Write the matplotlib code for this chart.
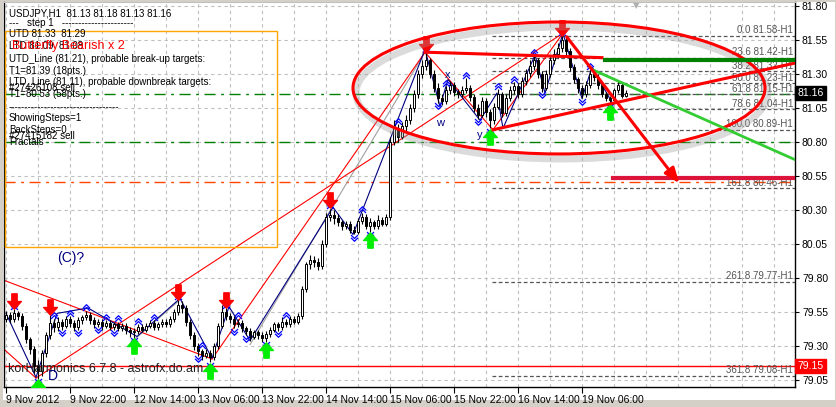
import matplotlib.pyplot as plt
import numpy as np
from matplotlib.patches import Ellipse, Rectangle
from matplotlib.path import Path

# H1 candles (open = previous close)
first_open = 79.50
closes = [79.53, 79.50, 79.54, 79.52, 79.45, 79.35, 79.28, 79.15, 79.12, 79.25,
          79.38, 79.47, 79.44, 79.48, 79.45, 79.50, 79.47, 79.44, 79.49, 79.51,
          79.53, 79.49, 79.46, 79.48, 79.45, 79.47, 79.44, 79.46, 79.43, 79.45,
          79.42, 79.40, 79.41, 79.44, 79.42, 79.45, 79.47, 79.44, 79.46, 79.48,
          79.46, 79.50, 79.55, 79.60, 79.58, 79.48, 79.38, 79.30, 79.26, 79.23,
          79.25, 79.22, 79.30, 79.45, 79.55, 79.52, 79.50, 79.46, 79.47, 79.43,
          79.41, 79.37, 79.40, 79.38, 79.36, 79.39, 79.42, 79.46, 79.44, 79.48,
          79.46, 79.50, 79.48, 79.52, 79.72, 79.90, 79.93, 79.92, 79.89, 80.05,
          80.25, 80.26, 80.24, 80.21, 80.18, 80.20, 80.15, 80.14, 80.22, 80.25,
          80.18, 80.21, 80.18, 80.23, 80.20, 80.25, 80.80, 80.90, 80.84, 80.92,
          80.96, 81.05, 81.15, 81.30, 81.36, 81.40, 81.30, 81.20, 81.12, 81.10,
          81.18, 81.22, 81.17, 81.15, 81.18, 81.20, 81.13, 81.05, 81.00, 81.10,
          81.02, 80.96, 81.06, 81.15, 81.01, 81.12, 81.18, 81.21, 81.15, 81.25,
          81.31, 81.36, 81.40, 81.30, 81.20, 81.30, 81.40, 81.45, 81.49, 81.55,
          81.47, 81.35, 81.26, 81.20, 81.15, 81.22, 81.30, 81.28, 81.22, 81.15,
          81.12, 81.11, 81.18, 81.22, 81.14, 81.16]
highs = [79.56, 79.55, 79.57, 79.56, 79.54, 79.47, 79.37, 79.30, 79.20, 79.27,
         79.40, 79.53, 79.50, 79.51, 79.50, 79.52, 79.52, 79.49, 79.51, 79.53,
         79.56, 79.55, 79.51, 79.50, 79.50, 79.49, 79.49, 79.48, 79.48, 79.47,
         79.47, 79.44, 79.43, 79.46, 79.46, 79.47, 79.49, 79.49, 79.48, 79.50,
         79.50, 79.52, 79.57, 79.64, 79.63, 79.60, 79.50, 79.40, 79.32, 79.28,
         79.28, 79.27, 79.32, 79.47, 79.60, 79.58, 79.54, 79.52, 79.50, 79.49,
         79.45, 79.43, 79.42, 79.42, 79.40, 79.41, 79.44, 79.48, 79.48, 79.51,
         79.50, 79.52, 79.52, 79.54, 79.74, 79.92, 79.97, 79.96, 79.95, 80.08,
         80.28, 80.31, 80.30, 80.27, 80.23, 80.22, 80.22, 80.18, 80.24, 80.28,
         80.27, 80.24, 80.23, 80.26, 80.25, 80.27, 80.84, 80.96, 80.93, 80.95,
         81.00, 81.08, 81.18, 81.33, 81.40, 81.46, 81.42, 81.33, 81.23, 81.15,
         81.21, 81.25, 81.24, 81.19, 81.21, 81.27, 81.22, 81.15, 81.08, 81.13,
         81.12, 81.04, 81.09, 81.19, 81.17, 81.15, 81.21, 81.24, 81.23, 81.28,
         81.34, 81.40, 81.44, 81.42, 81.32, 81.33, 81.43, 81.48, 81.53, 81.58,
         81.57, 81.49, 81.37, 81.28, 81.22, 81.25, 81.33, 81.32, 81.30, 81.24,
         81.17, 81.14, 81.20, 81.25, 81.24, 81.18]
lows = [79.48, 79.47, 79.48, 79.49, 79.42, 79.32, 79.24, 79.10, 79.06, 79.08,
        79.22, 79.35, 79.40, 79.41, 79.42, 79.43, 79.44, 79.41, 79.42, 79.46,
        79.49, 79.46, 79.43, 79.44, 79.42, 79.43, 79.42, 79.42, 79.41, 79.41,
        79.39, 79.37, 79.36, 79.39, 79.40, 79.40, 79.43, 79.42, 79.42, 79.44,
        79.44, 79.44, 79.48, 79.53, 79.54, 79.45, 79.35, 79.27, 79.23, 79.20,
        79.21, 79.18, 79.20, 79.28, 79.43, 79.49, 79.47, 79.43, 79.44, 79.40,
        79.38, 79.34, 79.35, 79.35, 79.33, 79.33, 79.37, 79.40, 79.41, 79.42,
        79.44, 79.44, 79.46, 79.46, 79.50, 79.70, 79.87, 79.88, 79.86, 79.87,
        80.03, 80.22, 80.20, 80.18, 80.15, 80.16, 80.13, 80.12, 80.12, 80.20,
        80.16, 80.14, 80.16, 80.16, 80.18, 80.18, 80.23, 80.78, 80.80, 80.82,
        80.88, 80.93, 81.02, 81.12, 81.27, 81.33, 81.27, 81.17, 81.09, 81.07,
        81.08, 81.15, 81.14, 81.12, 81.13, 81.16, 81.10, 81.02, 80.97, 80.98,
        80.98, 80.90, 80.93, 81.04, 80.98, 80.99, 81.10, 81.15, 81.12, 81.13,
        81.22, 81.28, 81.33, 81.27, 81.17, 81.18, 81.28, 81.37, 81.42, 81.46,
        81.44, 81.32, 81.23, 81.16, 81.12, 81.13, 81.20, 81.25, 81.19, 81.13,
        81.10, 81.08, 81.10, 81.16, 81.12, 81.13]

time_labels = ["9 Nov 2012", "9 Nov 22:00", "12 Nov 14:00", "13 Nov 06:00",
               "13 Nov 22:00", "14 Nov 14:00", "15 Nov 06:00", "15 Nov 22:00",
               "16 Nov 14:00", "19 Nov 06:00"]
price_ticks = [79.05, 79.30, 79.55, 79.80, 80.05, 80.30, 80.55, 80.80,
               81.05, 81.30, 81.55, 81.80]

# fractals / signal arrows (bar indices)
up_fractals = [2, 12, 16, 20, 25, 28, 33, 37, 43, 49, 55, 58, 70, 81, 89, 98,
               105, 110, 115, 123, 127, 132, 139, 146]
down_fractals = [8, 14, 18, 23, 27, 32, 48, 51, 57, 60, 65, 68, 87, 91, 108,
                 118, 121, 134, 144, 151]
sell_arrows = [2, 11, 43, 55, 81, 105, 139]
buy_arrows = [8, 32, 51, 65, 91, 121, 151]

# zigzag through swing points (bar, price)
zz_bar = [0, 7.5, 12.75, 20.5, 32.75, 43.5, 51.5, 55.75, 61, 81.75, 86.75,
          97.75, 104.75, 108.5, 110.5, 118.5, 122.75, 124.25, 132.25, 134.75,
          139.25, 144, 146.5, 151.5]
zz_price = [79.54, 79.07, 79.54, 79.58, 79.37, 79.65, 79.21, 79.59, 79.34,
            80.32, 80.12, 80.95, 81.48, 81.06, 81.26, 80.96, 81.16, 80.90,
            81.44, 81.16, 81.60, 81.12, 81.35, 81.09]

# harmonic pattern (thin red) lines: (bar0, price0, bar1, price1)
pattern_lines = [(-2, 79.80, 51.5, 79.205),
                 (-0.25, 79.27, 7.5, 79.065),
                 (7.5, 79.065, 139.25, 81.60),
                 (51.5, 79.205, 104.75, 81.46),
                 (104.75, 81.46, 121.75, 80.89),
                 (121.75, 80.89, 139.25, 81.60)]
# thin gray helper lines
gray_lines = [(31.75, 79.34, 43.5, 79.64),
              (61.0, 79.31, 104.75, 81.46)]

fib_pct = ["0.0", "23.6", "38.2", "50.0", "61.8", "78.6", "100.0", "161.8",
           "261.8", "361.8"]
fib_price = [81.58, 81.42, 81.32, 81.23, 81.15, 81.04, 80.89, 80.46, 79.77, 79.08]

info_lines = ["USDJPY,H1  81.13 81.18 81.13 81.16",
              "---   step 1   ----------------------",
              "UTD 81.33  81.29",
              "LTD 81.09  81.08",
              "UTD_Line (81.21), probable break-up targets:",
              "T1=81.39 (18pts.)",
              "LTD_Line (81.11), probable downbreak targets:",
              "T1=80.53 (58pts.)",
              "----------------------------------",
              "ShowingSteps=1",
              "BackSteps=0"]

W, H = 837, 407
fig = plt.figure(figsize=(W / 100, H / 100), dpi=100)
fig.patch.set_facecolor('#d4d0c8')
fig.add_artist(Rectangle((3 / W, 1 - 400 / H), 832 / W, 398 / H,
                         transform=fig.transFigure, facecolor='white',
                         edgecolor='none', zorder=-10))
ax = fig.add_axes([4 / W, 1 - 387 / H, 791 / W, 385 / H])
ax.set_xlim(-0.5, 197.25)
ax.set_ylim(78.999, 81.829)
ax.set_facecolor('white')

FONT = 'Liberation Sans'

# grid
for gx in range(0, 198, 8):
    ax.axvline(gx, color='#c0c0c0', lw=0.8, ls=(0, (3, 3)), zorder=0)
for gy in price_ticks:
    ax.axhline(gy, color='#c0c0c0', lw=0.8, ls=(0, (3, 3)), zorder=0)

# horizontal order / level lines
ax.axhline(81.15, color='#008000', lw=1.0, ls=(0, (8, 4, 2, 4)), zorder=1)
ax.axhline(80.80, color='#008000', lw=1.0, ls=(0, (8, 4, 2, 4)), zorder=1)
ax.axhline(80.505, color='#ff4500', lw=1.0, ls=(0, (8, 4, 2, 4)), zorder=1)
ax.axhline(79.153, color='#ff0000', lw=1.0, zorder=1)

# fibo levels
for pct, pr in zip(fib_pct, fib_price):
    ax.plot([121.5, 197.25], [pr, pr], color='#555555', lw=0.9,
            ls=(0, (3, 2)), zorder=1)
    ax.text(196.8, pr + 0.005, f"{pct} {pr:.2f}-H1", ha='right', va='bottom',
            fontsize=7, family=FONT, color='#555555', zorder=2)

# thin pattern lines
for b0, p0, b1, p1 in gray_lines:
    ax.plot([b0, b1], [p0, p1], color='#a0a0a0', lw=0.8, zorder=2)
for b0, p0, b1, p1 in pattern_lines:
    ax.plot([b0, b1], [p0, p1], color='#ff0000', lw=0.8, zorder=2)

# zigzag
ax.plot(zz_bar, zz_price, color='#000080', lw=0.8, zorder=3)

# candles
opens = [first_open] + closes[:-1]
idx = np.arange(len(closes))
ax.vlines(idx, lows, highs, color='black', lw=0.8, zorder=4)
for i, (o, c) in enumerate(zip(opens, closes)):
    bottom = min(o, c)
    height = max(abs(c - o), 0.004)
    face = 'white' if c >= o else 'black'
    ax.add_patch(Rectangle((i - 0.32, bottom), 0.64, height, facecolor=face,
                           edgecolor='black', lw=0.7, zorder=5))

# fractal chevrons
chev = Path([(-1, -0.2), (0, 0.8), (1, -0.2), (-1, -1.0), (0, 0.0), (1, -1.0)],
            [Path.MOVETO, Path.LINETO, Path.LINETO, Path.MOVETO, Path.LINETO, Path.LINETO])
chev_dn = Path(chev.vertices * [1, -1], chev.codes)
ax.plot(up_fractals, [highs[i] + 0.025 for i in up_fractals], ls='none',
        marker=chev, ms=5, mfc='none', mec='#0000ff', mew=0.9, zorder=6)
ax.plot(down_fractals, [lows[i] - 0.025 for i in down_fractals], ls='none',
        marker=chev_dn, ms=5, mfc='none', mec='#0000ff', mew=0.9, zorder=6)

# big signal arrows
arr_dn = Path([(-0.35, 1), (0.35, 1), (0.35, 0), (0.9, 0), (0, -1), (-0.9, 0),
               (-0.35, 0), (-0.35, 1)], closed=True)
arr_up = Path(arr_dn.vertices * [1, -1], arr_dn.codes)
ax.plot(sell_arrows, [highs[i] + 0.06 for i in sell_arrows], ls='none',
        marker=arr_dn, ms=11, mfc='#ff0000', mec='#ff0000', zorder=7)
ax.plot(buy_arrows, [lows[i] - 0.06 for i in buy_arrows], ls='none',
        marker=arr_up, ms=11, mfc='#00ee00', mec='#00ee00', zorder=7)

# ellipse with soft shadow
ax.add_patch(Ellipse((139.0, 81.16), 103, 0.97, fill=False, ec='#999999',
                     lw=5, alpha=0.35, zorder=7))
ax.add_patch(Ellipse((138.25, 81.197), 103, 0.97, fill=False, ec='#ff0000',
                     lw=2.2, zorder=8))

# thick drawn objects
ax.plot([104.75, 149], [81.46, 81.42], color='#ff0000', lw=2.2, zorder=8)
ax.plot([121.75, 197.25], [80.89, 81.38], color='#ff0000', lw=2.2, zorder=8)
ax.plot([146.75, 197.25], [81.33, 80.67], color='#33cc33', lw=2.0, zorder=8)
ax.plot([149.75, 197.25], [81.40, 81.40], color='#008000', lw=3.0, zorder=8)
ax.plot([151.75, 197.25], [80.535, 80.535], color='#dc143c', lw=3.0, zorder=8)
ax.annotate('', xy=(168.75, 80.48), xytext=(139.75, 81.59),
            arrowprops=dict(arrowstyle='-|>,head_length=0.9,head_width=0.35',
                            color='#ff0000', lw=2.2), zorder=8)

# wave labels
ax.text(108.5, 80.94, 'w', color='#000080', fontsize=8, family=FONT, ha='center', va='center', zorder=9)
ax.text(110.5, 81.29, 'x', color='#000080', fontsize=8, family=FONT, ha='center', va='center', zorder=9)
ax.text(118.5, 80.85, 'y', color='#000080', fontsize=8, family=FONT, ha='center', va='center', zorder=9)

# axes styling
ax.spines['top'].set_color('#c0c0c0')
for s in ['left', 'bottom', 'right']:
    ax.spines[s].set_color('black')
    ax.spines[s].set_linewidth(1.0)
ax.yaxis.tick_right()
ax.set_yticks(price_ticks)
ax.set_yticklabels([f"{p:.2f}" for p in price_ticks], fontsize=7.5, family=FONT)
ax.tick_params(axis='y', length=3, pad=2, colors='black')
ax.set_xticks(range(0, 16 * len(time_labels), 16))
ax.set_xticklabels(time_labels, fontsize=7.5, family=FONT, ha='left')
ax.tick_params(axis='x', length=4, pad=2)

# price boxes on the right axis
tr = ax.get_yaxis_transform()
ax.text(1.003, 81.16, '81.16', transform=tr, color='white', fontsize=7.5,
        family=FONT, va='center', ha='left', zorder=20,
        bbox=dict(boxstyle='square,pad=0.2', fc='black', ec='black'))
ax.text(1.003, 79.153, '79.15', transform=tr, color='white', fontsize=7.5,
        family=FONT, va='center', ha='left', zorder=20,
        bbox=dict(boxstyle='square,pad=0.2', fc='#ff0000', ec='#ff0000'))


def fp(px, py):
    return px / W, 1 - py / H


# info panel
ys = [13, 23, 34, 46, 59, 71, 82, 94, 107, 118, 130]
for t, y in zip(info_lines, ys):
    fig.text(*fp(9, y), t, fontsize=7, family=FONT, va='center', color='black')
fig.text(*fp(9, 88), '#27426108 sell', fontsize=7, family=FONT, va='center')
fig.text(*fp(9, 136), '#27415182 sell', fontsize=7, family=FONT, va='center')
fig.text(*fp(9, 142), 'Fractals', fontsize=7, family=FONT, va='center')
fig.text(*fp(12, 46), 'Butterfly Bearish x 2', fontsize=9, family=FONT,
         va='center', color='#ff0000')
fig.add_artist(Rectangle(fp(5, 247), 272 / W, 216 / H, transform=fig.transFigure,
                         fill=False, ec='#ffa500', lw=1.0))
fig.text(*fp(57, 258), '(C)?', fontsize=10, family=FONT, va='center', color='#000080')
fig.text(*fp(8, 369), 'korHarmonics 6.7.8 - astrofx.do.am', fontsize=9,
         family=FONT, va='center', color='#202020')
fig.text(*fp(48, 376), 'D', fontsize=10, family=FONT, va='center', color='#000080')
fig.text(*fp(636, 6), '\u25bc', fontsize=6, ha='center', va='center', color='#b0b0b0')

fig.savefig('out.png', dpi=100, facecolor=fig.get_facecolor())
